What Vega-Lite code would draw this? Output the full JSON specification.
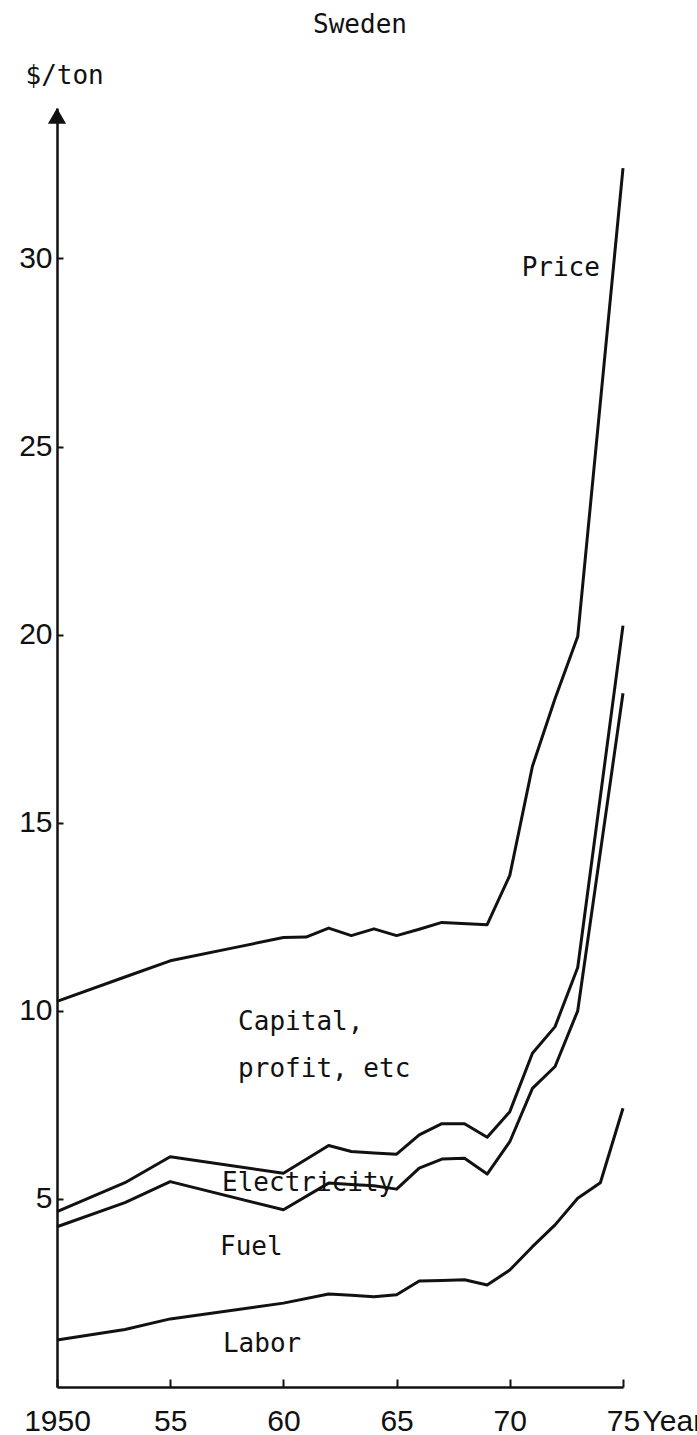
{
  "$schema": "https://vega.github.io/schema/vega-lite/v6.json",
  "width": 566,
  "height": 1279,
  "autosize": "none",
  "padding": {"left": 57, "top": 108, "right": 74, "bottom": 48},
  "background": "white",
  "config": {"view": {"stroke": null}},
  "datasets": {
    "lines": [
      {"series": "Price", "year": 1950, "value": 10.25},
      {"series": "Price", "year": 1953, "value": 10.9},
      {"series": "Price", "year": 1955, "value": 11.33},
      {"series": "Price", "year": 1958, "value": 11.7},
      {"series": "Price", "year": 1960, "value": 11.95},
      {"series": "Price", "year": 1961, "value": 11.96},
      {"series": "Price", "year": 1962, "value": 12.2},
      {"series": "Price", "year": 1963, "value": 12.0},
      {"series": "Price", "year": 1964, "value": 12.18},
      {"series": "Price", "year": 1965, "value": 12.0},
      {"series": "Price", "year": 1966, "value": 12.17},
      {"series": "Price", "year": 1967, "value": 12.35},
      {"series": "Price", "year": 1969, "value": 12.29},
      {"series": "Price", "year": 1970, "value": 13.6},
      {"series": "Price", "year": 1971, "value": 16.5},
      {"series": "Price", "year": 1972, "value": 18.3},
      {"series": "Price", "year": 1973, "value": 19.95},
      {"series": "Price", "year": 1975, "value": 32.4},
      {"series": "Electricity", "year": 1950, "value": 4.66},
      {"series": "Electricity", "year": 1953, "value": 5.43},
      {"series": "Electricity", "year": 1955, "value": 6.12},
      {"series": "Electricity", "year": 1960, "value": 5.68},
      {"series": "Electricity", "year": 1962, "value": 6.42},
      {"series": "Electricity", "year": 1963, "value": 6.26},
      {"series": "Electricity", "year": 1964, "value": 6.22},
      {"series": "Electricity", "year": 1965, "value": 6.19},
      {"series": "Electricity", "year": 1966, "value": 6.7},
      {"series": "Electricity", "year": 1967, "value": 7.0},
      {"series": "Electricity", "year": 1968, "value": 7.0},
      {"series": "Electricity", "year": 1969, "value": 6.64},
      {"series": "Electricity", "year": 1970, "value": 7.32},
      {"series": "Electricity", "year": 1971, "value": 8.87},
      {"series": "Electricity", "year": 1972, "value": 9.58},
      {"series": "Electricity", "year": 1973, "value": 11.15},
      {"series": "Electricity", "year": 1975, "value": 20.24},
      {"series": "Fuel", "year": 1950, "value": 4.26},
      {"series": "Fuel", "year": 1953, "value": 4.9},
      {"series": "Fuel", "year": 1955, "value": 5.46},
      {"series": "Fuel", "year": 1960, "value": 4.71},
      {"series": "Fuel", "year": 1962, "value": 5.42},
      {"series": "Fuel", "year": 1963, "value": 5.38},
      {"series": "Fuel", "year": 1964, "value": 5.35},
      {"series": "Fuel", "year": 1965, "value": 5.26},
      {"series": "Fuel", "year": 1966, "value": 5.82},
      {"series": "Fuel", "year": 1967, "value": 6.06},
      {"series": "Fuel", "year": 1968, "value": 6.08},
      {"series": "Fuel", "year": 1969, "value": 5.66},
      {"series": "Fuel", "year": 1970, "value": 6.52},
      {"series": "Fuel", "year": 1971, "value": 7.94},
      {"series": "Fuel", "year": 1972, "value": 8.52},
      {"series": "Fuel", "year": 1973, "value": 10.0},
      {"series": "Fuel", "year": 1975, "value": 18.44},
      {"series": "Labor", "year": 1950, "value": 1.25},
      {"series": "Labor", "year": 1953, "value": 1.53},
      {"series": "Labor", "year": 1955, "value": 1.81},
      {"series": "Labor", "year": 1960, "value": 2.23},
      {"series": "Labor", "year": 1962, "value": 2.47},
      {"series": "Labor", "year": 1963, "value": 2.44},
      {"series": "Labor", "year": 1964, "value": 2.4},
      {"series": "Labor", "year": 1965, "value": 2.45},
      {"series": "Labor", "year": 1966, "value": 2.82},
      {"series": "Labor", "year": 1967, "value": 2.83},
      {"series": "Labor", "year": 1968, "value": 2.85},
      {"series": "Labor", "year": 1969, "value": 2.71},
      {"series": "Labor", "year": 1970, "value": 3.11},
      {"series": "Labor", "year": 1971, "value": 3.73},
      {"series": "Labor", "year": 1972, "value": 4.31},
      {"series": "Labor", "year": 1973, "value": 5.02},
      {"series": "Labor", "year": 1974, "value": 5.43},
      {"series": "Labor", "year": 1975, "value": 7.41}
    ]
  },
  "layer": [
    {
      "data": {"name": "lines"},
      "mark": {"type": "line", "color": "#111", "strokeWidth": 3, "strokeJoin": "round"},
      "encoding": {
        "x": {
          "field": "year", "type": "quantitative",
          "scale": {"domain": [1950, 1975], "nice": false, "zero": false},
          "axis": {
            "values": [1950, 1955, 1960, 1965, 1970, 1975],
            "format": "d",
            "labelExpr": "datum.value == 1950 ? '1950' : substring(datum.label, 2)",
            "grid": false,
            "domainColor": "#111", "domainWidth": 2.5,
            "tickColor": "#111", "tickWidth": 2, "tickSize": -8,
            "labelFont": "Liberation Sans", "labelFontSize": 30, "labelColor": "#111",
            "labelBaseline": "alphabetic", "labelPadding": 51, "labelFlush": false,
            "title": "Year",
            "titleFont": "Liberation Sans", "titleFontSize": 30, "titleFontWeight": "normal", "titleColor": "#111",
            "titleAlign": "left", "titleBaseline": "alphabetic", "titleX": 585, "titleY": 43
          }
        },
        "y": {
          "field": "value", "type": "quantitative",
          "scale": {"domain": [0, 34], "nice": false},
          "axis": {
            "values": [5, 10, 15, 20, 25, 30],
            "grid": false,
            "domainColor": "#111", "domainWidth": 2.5,
            "tickColor": "#111", "tickWidth": 2, "tickSize": -6,
            "labelFont": "Liberation Sans", "labelFontSize": 30, "labelColor": "#111",
            "labelPadding": 11,
            "title": "$/ton",
            "titleFont": "DejaVu Sans Mono", "titleFontSize": 26, "titleFontWeight": "normal", "titleColor": "#111",
            "titleAngle": 0, "titleAlign": "left", "titleBaseline": "alphabetic", "titleX": -32, "titleY": -25
          }
        },
        "detail": {"field": "series"}
      }
    },
    {
      "data": {"values": [{}]},
      "mark": {"type": "point", "shape": "triangle-up", "filled": true, "color": "#111", "size": 330, "opacity": 1},
      "encoding": {"x": {"datum": 1950}, "y": {"datum": 33.79}}
    },
    {
      "data": {"values": [{}]},
      "mark": {"type": "text", "font": "DejaVu Sans Mono", "fontSize": 26, "color": "#111", "align": "left", "baseline": "alphabetic"},
      "encoding": {"x": {"datum": 1961.31}, "y": {"datum": 35.99}, "text": {"value": "Sweden"}}
    },
    {
      "data": {"values": [{}]},
      "mark": {"type": "text", "font": "DejaVu Sans Mono", "fontSize": 26, "color": "#111", "align": "right", "baseline": "alphabetic"},
      "encoding": {"x": {"datum": 1973.98}, "y": {"datum": 29.53}, "text": {"value": "Price"}}
    },
    {
      "data": {"values": [{}]},
      "mark": {"type": "text", "font": "DejaVu Sans Mono", "fontSize": 26, "color": "#111", "align": "left", "baseline": "alphabetic", "lineHeight": 47},
      "encoding": {"x": {"datum": 1958.0}, "y": {"datum": 9.49}, "text": {"value": ["Capital,", "profit, etc"]}}
    },
    {
      "data": {"values": [{}]},
      "mark": {"type": "text", "font": "DejaVu Sans Mono", "fontSize": 26, "color": "#111", "align": "left", "baseline": "alphabetic"},
      "encoding": {"x": {"datum": 1957.29}, "y": {"datum": 5.22}, "text": {"value": "Electricity"}}
    },
    {
      "data": {"values": [{}]},
      "mark": {"type": "text", "font": "DejaVu Sans Mono", "fontSize": 26, "color": "#111", "align": "left", "baseline": "alphabetic"},
      "encoding": {"x": {"datum": 1957.2}, "y": {"datum": 3.51}, "text": {"value": "Fuel"}}
    },
    {
      "data": {"values": [{}]},
      "mark": {"type": "text", "font": "DejaVu Sans Mono", "fontSize": 26, "color": "#111", "align": "left", "baseline": "alphabetic"},
      "encoding": {"x": {"datum": 1957.33}, "y": {"datum": 0.92}, "text": {"value": "Labor"}}
    }
  ]
}
